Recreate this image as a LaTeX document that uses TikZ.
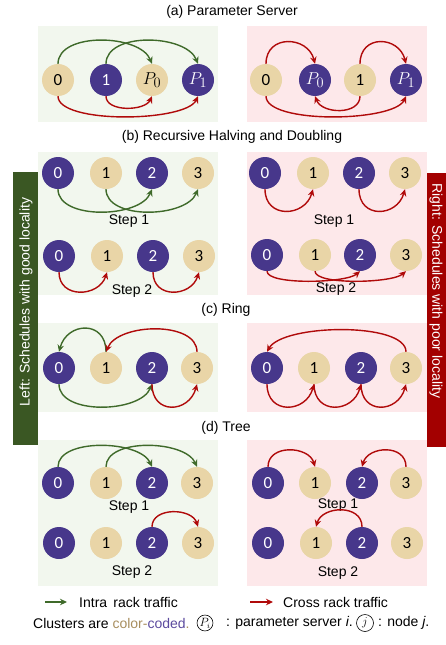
\documentclass[tikz,border=0pt]{standalone}
\usepackage{fontspec}
\setmainfont{Liberation Sans}
\newfontfamily\numfont{Carlito}
\usetikzlibrary{arrows.meta}

\definecolor{npurple}{HTML}{47378B}
\definecolor{ntan}{HTML}{E9D5A7}
\definecolor{agreen}{HTML}{3F6A2A}
\definecolor{ared}{HTML}{B00A0A}
\definecolor{bargreen}{HTML}{3A5723}
\definecolor{barred}{HTML}{A30000}
\definecolor{bggreen}{HTML}{F2F7EE}
\definecolor{bgpink}{HTML}{FDE8EA}
\definecolor{codetan}{HTML}{A88E5E}
\definecolor{codepurple}{HTML}{5B4A9E}

\begin{document}
\begin{tikzpicture}[x=1pt,y=-1pt,
  pn/.style={circle, fill=npurple, text=white, minimum size=32pt, inner sep=0pt,
             font=\numfont\fontsize{17}{17}\selectfont},
  tn/.style={circle, fill=ntan, text=black, minimum size=32pt, inner sep=0pt,
             font=\numfont\fontsize{17}{17}\selectfont},
  psrv/.style={font=\fontsize{19}{19}\selectfont},
  ga/.style={draw=agreen, line width=1.4pt, -{Stealth[length=7pt,width=6.5pt]}},
  ra/.style={draw=ared, line width=1.4pt, -{Stealth[length=7pt,width=6.5pt]}},
  txt/.style={font=\fontsize{14}{16}\selectfont, inner sep=0pt},
  bartxt/.style={font=\fontsize{14}{16}\selectfont, inner sep=0pt, text=white},
  keynode/.style={circle, draw=black, line width=0.6pt, inner sep=0.4pt,
             font=\fontsize{12}{12}\selectfont},
]
\useasboundingbox (0,0) rectangle (446,645);

% ---------- panel backgrounds ----------
\fill[bggreen] (38,26) rectangle (218,122);
\fill[bgpink]  (247,26) rectangle (427,122);
\fill[bggreen] (38,152) rectangle (218,295);
\fill[bgpink]  (247,152) rectangle (427,295);
\fill[bggreen] (38,323) rectangle (218,412);
\fill[bgpink]  (247,323) rectangle (427,412);
\fill[bggreen] (38,440) rectangle (218,586);
\fill[bgpink]  (247,440) rectangle (427,586);

% ---------- side bars ----------
\fill[bargreen] (13,172) rectangle (38,445);
\node[bartxt, rotate=90] (leftbar) at (26,302) {Left: Schedules with good locality};
\fill[barred] (427,173) rectangle (446,447);
\node[bartxt, rotate=-90] (rightbar) at (436,291) {Right: Schedules with poor locality};

% ---------- titles ----------
\node[txt] (ta) at (232,12)  {(a) Parameter Server};
\node[txt] (tb) at (232,137) {(b) Recursive Halving and Doubling};
\node[txt] (tc) at (226,310) {(c) Ring};
\node[txt] (td) at (226,428) {(d) Tree};

% ---------- (a) parameter server ----------
\node[tn] (aL0)  at (58,80)  {0};
\node[pn] (aL1)  at (106,80) {1};
\node[tn, psrv] (aLP0) at (152,80) {$P_0$};
\node[pn, psrv] (aLP1) at (198,80) {$P_1$};
\draw[ga] (aL0.north) .. controls +(0,-32) and +(-12,-30) .. (aLP0.north);
\draw[ga] (aL1.north) .. controls +(0,-32) and +(-12,-30) .. (aLP1.north);
\draw[ra] (aL1.south) .. controls +(0,16) and +(-7,15) .. (aLP0.south);
\draw[ra] (aL0.south) .. controls +(0,28) and +(-12,26) .. (aLP1.south);

\node[tn] (aR0)  at (266,80) {0};
\node[pn, psrv] (aRP0) at (315,80) {$P_0$};
\node[tn] (aR1)  at (360,80) {1};
\node[pn, psrv] (aRP1) at (406,80) {$P_1$};
\draw[ra] (aR0.north) .. controls +(0,-30) and +(-7,-28) .. (aRP0.north);
\draw[ra] (aR1.north) .. controls +(0,-30) and +(-7,-28) .. (aRP1.north);
\draw[ra] (aR1.south) .. controls +(0,19) and +(7,18) .. (aRP0.south);
\draw[ra] (aR0.south) .. controls +(0,28) and +(-12,26) .. (aRP1.south);

% ---------- (b) recursive halving and doubling ----------
\node[pn] (bLa0) at (58,173)  {0};
\node[tn] (bLa1) at (106,173) {1};
\node[pn] (bLa2) at (152,173) {2};
\node[tn] (bLa3) at (198,173) {3};
\draw[ga] (bLa0.south) .. controls +(0,31) and +(-12,29) .. (bLa2.south);
\draw[ga] (bLa1.south) .. controls +(0,31) and +(-12,29) .. (bLa3.south);
\node[txt] (bLs1) at (129,221) {Step 1};
\node[pn] (bLb0) at (59,256)  {0};
\node[tn] (bLb1) at (107,256) {1};
\node[pn] (bLb2) at (153,256) {2};
\node[tn] (bLb3) at (199,256) {3};
\draw[ra] (bLb0.south) .. controls +(0,27) and +(-8,25) .. (bLb1.south);
\draw[ra] (bLb2.south) .. controls +(0,27) and +(-8,25) .. (bLb3.south);
\node[txt] (bLs2) at (132,291) {Step 2};

\node[pn] (bRa0) at (265,173) {0};
\node[tn] (bRa1) at (313,173) {1};
\node[pn] (bRa2) at (359,173) {2};
\node[tn] (bRa3) at (405,173) {3};
\draw[ra] (bRa0.south) .. controls +(0,30) and +(-8,28) .. (bRa1.south);
\draw[ra] (bRa2.south) .. controls +(0,30) and +(-8,28) .. (bRa3.south);
\node[txt] (bRs1) at (334,221) {Step 1};
\node[pn] (bRb0) at (267,255) {0};
\node[tn] (bRb1) at (315,255) {1};
\node[pn] (bRb2) at (360,255) {2};
\node[tn] (bRb3) at (406,255) {3};
\draw[ra] (bRb0.south) .. controls +(0,14) and +(-14,12) .. (bRb2.south);
\draw[ra] (bRb1.south) .. controls +(0,14) and +(-14,12) .. (bRb3.south);
\node[txt] (bRs2) at (336,289) {Step 2};

% ---------- (c) ring ----------
\node[pn] (cL0) at (59,368)  {0};
\node[tn] (cL1) at (106,368) {1};
\node[pn] (cL2) at (152,368) {2};
\node[tn] (cL3) at (197,368) {3};
\draw[ga] (cL1.north) .. controls +(0,-32) and +(8,-30) .. (cL0.north);
\draw[ra] (cL3.north) .. controls +(0,-31) and +(12,-29) .. (cL1.north);
\draw[ga] (cL0.south) .. controls +(0,31) and +(-12,29) .. (cL2.south);
\draw[ra] (cL2.south) .. controls +(0,31) and +(-8,29) .. (cL3.south);

\node[pn] (cR0) at (267,368) {0};
\node[tn] (cR1) at (314,368) {1};
\node[pn] (cR2) at (361,368) {2};
\node[tn] (cR3) at (406,368) {3};
\draw[ra] (cR0.south) .. controls +(0,31) and +(-8,29) .. (cR1.south);
\draw[ra] (cR1.south) .. controls +(0,31) and +(-8,29) .. (cR2.south);
\draw[ra] (cR2.south) .. controls +(0,31) and +(-8,29) .. (cR3.south);
\draw[ra] (cR3.north) .. controls +(0,-30) and +(16,-28) .. (cR0.north);

% ---------- (d) tree ----------
\node[pn] (dLa0) at (58,483)  {0};
\node[tn] (dLa1) at (106,483) {1};
\node[pn] (dLa2) at (152,483) {2};
\node[tn] (dLa3) at (197,483) {3};
\draw[ga] (dLa0.north) .. controls +(0,-29) and +(-12,-27) .. (dLa2.north);
\draw[ga] (dLa1.north) .. controls +(0,-29) and +(-12,-27) .. (dLa3.north);
\node[txt] (dLs1) at (129,507) {Step 1};
\node[pn] (dLb0) at (59,543)  {0};
\node[tn] (dLb1) at (106,543) {1};
\node[pn] (dLb2) at (152,543) {2};
\node[tn] (dLb3) at (198,543) {3};
\draw[ra] (dLb2.north) .. controls +(0,-20) and +(-6,-19) .. (dLb3.north);
\node[txt] (dLs2) at (132,572) {Step 2};

\node[pn] (dRa0) at (268,483) {0};
\node[tn] (dRa1) at (315,483) {1};
\node[pn] (dRa2) at (362,483) {2};
\node[tn] (dRa3) at (406,483) {3};
\draw[ra] (dRa0.north) .. controls +(0,-23) and +(-6,-21) .. (dRa1.north);
\draw[ra] (dRa3.north) .. controls +(0,-23) and +(6,-21) .. (dRa2.north);
\node[txt] (dRs1) at (338,505) {Step 1};
\node[pn] (dRb0) at (268,543) {0};
\node[tn] (dRb1) at (316,543) {1};
\node[pn] (dRb2) at (362,543) {2};
\node[tn] (dRb3) at (407,543) {3};
\draw[ra] (dRb2.north) .. controls +(0,-23) and +(6,-21) .. (dRb1.north);
\node[txt] (dRs2) at (338,573) {Step 2};

% ---------- legend ----------
\coordinate (kg1) at (45,602);
\coordinate (kg2) at (67,602);
\draw[ga, line width=1.2pt] (kg1) -- (kg2);
\node[txt, anchor=west] (kgt) at (79,602) {Intra\, rack traffic};
\coordinate (kr1) at (250,602);
\coordinate (kr2) at (273,602);
\draw[ra, line width=1.2pt] (kr1) -- (kr2);
\node[txt, anchor=west] (krt) at (283,602) {Cross rack traffic};

% ---------- key line ----------
\node[txt, anchor=west] (k1) at (33,623)
  {Clusters are \textcolor{codetan}{color-}\textcolor{codepurple}{coded}\textcolor{codetan}{.}};
\node[keynode, minimum size=15pt] (kP) at (205,623) {$P_i$};
\node[txt, anchor=west] (k2) at (226,623) {: parameter server \textit{i}.};
\node[keynode, minimum size=17pt] (kj) at (365,623) {$j$};
\node[txt, anchor=west] (k3) at (378,623) {: node \textit{j}.};
\end{tikzpicture}
\end{document}
